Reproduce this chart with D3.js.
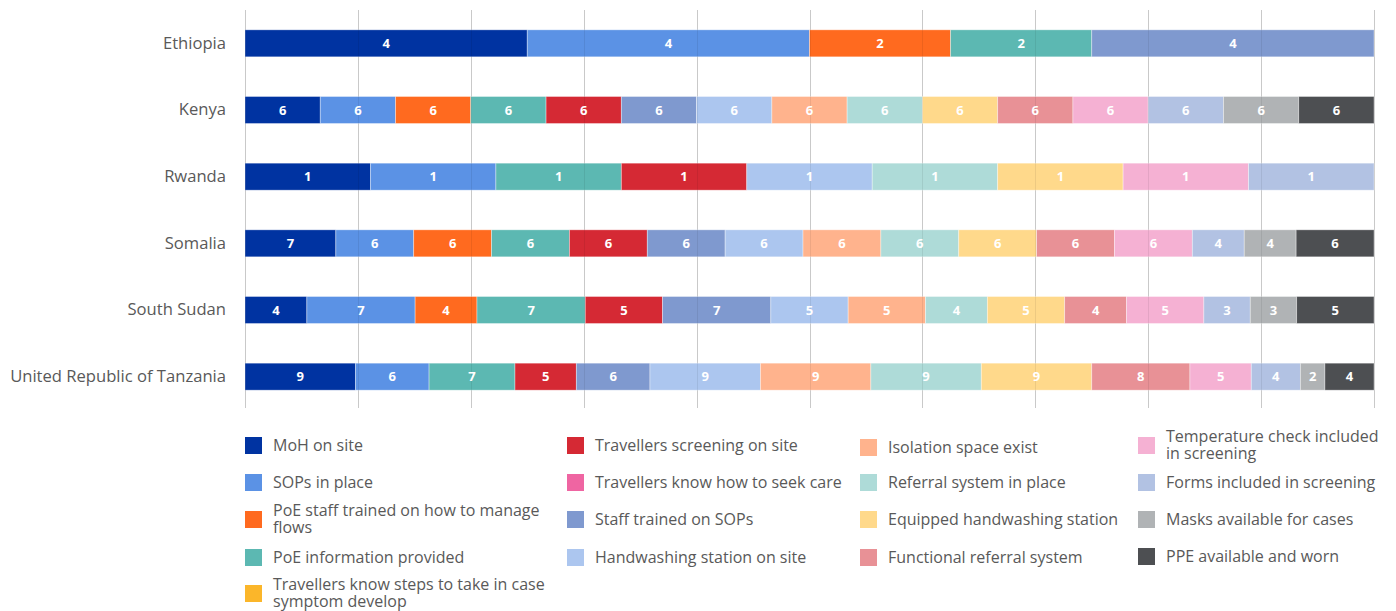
<!DOCTYPE html>
<html>
<head>
<meta charset="utf-8">
<script src="https://cdn.jsdelivr.net/npm/d3@7"></script>
<style>
  html, body { margin: 0; padding: 0; background: #fff; }
  svg { display: block; }
</style>
</head>
<body>
<svg id="chart" width="1396" height="611"></svg>
<script>
// ---------- DATA ----------
const countries = ["Ethiopia", "Kenya", "Rwanda", "Somalia", "South Sudan", "United Republic of Tanzania"];

const seriesNames = [
  "MoH on site",
  "SOPs in place",
  "PoE staff trained on how to manage flows",
  "PoE information provided",
  "Travellers know steps to take in case symptom develop",
  "Travellers screening on site",
  "Travellers know how to seek care",
  "Staff trained on SOPs",
  "Handwashing station on site",
  "Isolation space exist",
  "Referral system in place",
  "Equipped handwashing station",
  "Functional referral system",
  "Temperature check included in screening",
  "Forms included in screening",
  "Masks available for cases",
  "PPE available and worn"
];

// values per series, in the order of `countries`
const mohOnSite            = [4, 6, 1, 7, 4, 9];
const sopsInPlace          = [4, 6, 1, 6, 7, 6];
const poeStaffTrained      = [2, 6, 0, 6, 4, 0];
const poeInformation       = [2, 6, 1, 6, 7, 7];
const travellersKnowSteps  = [0, 0, 0, 0, 0, 0];
const travellersScreening  = [0, 6, 1, 6, 5, 5];
const travellersSeekCare   = [0, 0, 0, 0, 0, 0];
const staffTrainedSOPs     = [4, 6, 0, 6, 7, 6];
const handwashingOnSite    = [0, 6, 1, 6, 5, 9];
const isolationSpace       = [0, 6, 0, 6, 5, 9];
const referralSystem       = [0, 6, 1, 6, 4, 9];
const equippedHandwashing  = [0, 6, 1, 6, 5, 9];
const functionalReferral   = [0, 6, 0, 6, 4, 8];
const temperatureCheck     = [0, 6, 1, 6, 5, 5];
const formsInScreening     = [0, 6, 1, 4, 3, 4];
const masksAvailable       = [0, 6, 0, 4, 3, 2];
const ppeAvailable         = [0, 6, 0, 6, 5, 4];

const seriesValues = [
  mohOnSite, sopsInPlace, poeStaffTrained, poeInformation, travellersKnowSteps,
  travellersScreening, travellersSeekCare, staffTrainedSOPs, handwashingOnSite,
  isolationSpace, referralSystem, equippedHandwashing, functionalReferral,
  temperatureCheck, formsInScreening, masksAvailable, ppeAvailable
];

const seriesColors = [
  "#0033A1", "#5B92E5", "#FF6A1F", "#5CB8B2", "#FBB62A",
  "#D52934", "#EF65A2", "#7F99CF", "#ACC6EF",
  "#FFB38D", "#AEDBD8", "#FFD98B", "#E89196",
  "#F5B1D3", "#B2C2E3", "#B0B3B5", "#4D4F52"
];

const gridTicks = [0, 0.1, 0.2, 0.3, 0.4, 0.5, 0.6, 0.7, 0.8, 0.9, 1];

// legend layout: columns of series indices
const legendColumns = [[0, 1, 2, 3, 4], [5, 6, 7, 8], [9, 10, 11, 12], [13, 14, 15, 16]];
const legendWrap = {
  2: ["PoE staff trained on how to manage", "flows"],
  4: ["Travellers know steps to take in case", "symptom develop"],
  13: ["Temperature check included", "in screening"]
};

// ---------- CHART ----------
const svg = d3.select("#chart");
const FONT = "'Open Sans', 'Noto Sans', sans-serif";

const table = countries.map((c, i) => {
  const row = { country: c };
  seriesNames.forEach((s, j) => { row[s] = seriesValues[j][i]; });
  return row;
});

const stacked = d3.stack().keys(seriesNames).offset(d3.stackOffsetExpand)(table);

const x = d3.scaleLinear().domain([0, 1]).range([245, 1374]);
const y = d3.scaleBand().domain(countries).range([10, 410])
  .paddingInner(0.595).paddingOuter(0.2975);

// gridlines below
svg.append("g").selectAll("line").data(gridTicks).join("line")
  .attr("x1", d => Math.round(x(d)) + 0.5).attr("x2", d => Math.round(x(d)) + 0.5)
  .attr("y1", 10).attr("y2", 408)
  .attr("stroke", "#d9d9d9").attr("stroke-width", 1);

// bars
const layers = svg.append("g").selectAll("g").data(stacked).join("g")
  .attr("fill", (d, i) => seriesColors[i]);

layers.selectAll("rect").data(d => d.filter(p => p[1] - p[0] > 0)).join("rect")
  .attr("x", d => x(d[0]))
  .attr("y", d => y(d.data.country))
  .attr("width", d => x(d[1]) - x(d[0]))
  .attr("height", y.bandwidth())
  .attr("stroke", "rgba(255,255,255,0.45)")
  .attr("stroke-width", 0.8);

// gridlines faintly over bars
svg.append("g").selectAll("line").data(gridTicks).join("line")
  .attr("x1", d => Math.round(x(d)) + 0.5).attr("x2", d => Math.round(x(d)) + 0.5)
  .attr("y1", 10).attr("y2", 408)
  .attr("stroke", "#000").attr("stroke-opacity", 0.07).attr("stroke-width", 1);

// data labels
stacked.forEach((layer) => {
  svg.append("g").selectAll("text")
    .data(layer.filter(p => p[1] - p[0] > 0)).join("text")
    .attr("x", d => (x(d[0]) + x(d[1])) / 2)
    .attr("y", d => y(d.data.country) + y.bandwidth() / 2)
    .attr("dy", "0.36em")
    .attr("text-anchor", "middle")
    .attr("font-family", FONT)
    .attr("font-weight", "bold")
    .attr("font-size", 13)
    .attr("fill", "#fff")
    .text(d => d.data[layer.key]);
});

// category axis
const yAxis = d3.axisLeft(y).tickSize(0).tickPadding(19);
const yG = svg.append("g").attr("transform", "translate(245,0)").call(yAxis);
yG.select(".domain").remove();
yG.selectAll("text")
  .attr("font-family", FONT)
  .attr("font-size", 16.6)
  .attr("fill", "#595959");

// legend
const colX = [245, 567, 860, 1138];
const legendRowYCol = [
  [445, 482, 519, 557, 593],
  [445, 482, 519, 557],
  [447, 482, 519, 557],
  [445, 482, 519, 556]
];
const legend = svg.append("g");
legendColumns.forEach((col, ci) => {
  col.forEach((si, ri) => {
    const cy = legendRowYCol[ci][ri];
    const g = legend.append("g").attr("transform", `translate(${colX[ci]},${cy})`);
    g.append("rect").attr("x", 0).attr("y", -8).attr("width", 17).attr("height", 17)
      .attr("fill", seriesColors[si]);
    const lines = legendWrap[si] || [seriesNames[si]];
    const t = g.append("text")
      .attr("font-family", FONT)
      .attr("font-size", 16)
      .attr("fill", "#595959");
    if (lines.length === 1) {
      t.append("tspan").attr("x", 28).attr("y", 0).attr("dy", "0.35em").text(lines[0]);
    } else {
      t.append("tspan").attr("x", 28).attr("y", -8.5).attr("dy", "0.35em").text(lines[0]);
      t.append("tspan").attr("x", 28).attr("y", 8.5).attr("dy", "0.35em").text(lines[1]);
    }
  });
});
</script>
</body>
</html>
